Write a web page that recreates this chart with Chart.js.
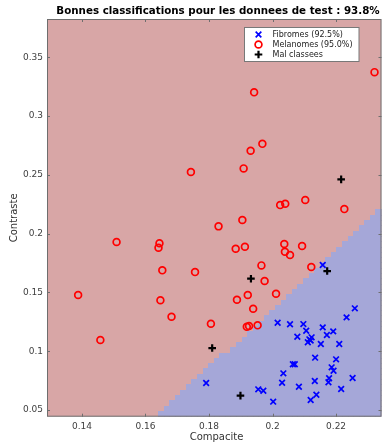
<!DOCTYPE html>
<html>
<head>
<meta charset="utf-8">
<script src="https://cdn.jsdelivr.net/npm/chart.js@4.4.1/dist/chart.umd.min.js"></script>
<style>
  html, body { margin: 0; padding: 0; background: #ffffff; }
  #wrap { width: 383px; height: 444px; }
</style>
</head>
<body>
<div id="wrap"><canvas id="c" width="383" height="444"></canvas></div>
<script>
// Fibromes correctly classified
const compaciteFib = [0.2158, 0.2259, 0.2233, 0.2016, 0.2055, 0.2097, 0.2158, 0.2106, 0.2191, 0.2078,
  0.2171, 0.2123, 0.2116, 0.2111, 0.2120, 0.2152, 0.2210, 0.2134, 0.2200, 0.2064,
  0.2070, 0.2186, 0.2192, 0.2034, 0.2178, 0.2252, 0.2030, 0.2083, 0.2133, 0.2176,
  0.2216, 0.1791, 0.1955, 0.1971, 0.2002, 0.2120, 0.2138];
const contrasteFib = [0.1733, 0.1365, 0.1288, 0.1242, 0.1229, 0.1231, 0.1203, 0.1174, 0.1169, 0.1123,
  0.1138, 0.1118, 0.1101, 0.1076, 0.1091, 0.1061, 0.1061, 0.0945, 0.0931, 0.0889,
  0.0889, 0.0863, 0.0834, 0.0812, 0.0770, 0.0772, 0.0732, 0.0698, 0.0747, 0.0736,
  0.0679, 0.0730, 0.0676, 0.0664, 0.0571, 0.0585, 0.0630];

// Melanomes correctly classified
const compaciteMel = [0.2321, 0.1942, 0.1968, 0.1931, 0.1909, 0.1743, 0.2103, 0.2024, 0.2040, 0.2226,
  0.1905, 0.1830, 0.1644, 0.1641, 0.1884, 0.1913, 0.1509, 0.1653, 0.1756, 0.1965,
  0.1975, 0.2093, 0.2037, 0.2039, 0.2055, 0.2122, 0.2011, 0.1682, 0.1647, 0.1888,
  0.1922, 0.1939, 0.1806, 0.1919, 0.1926, 0.1953, 0.1388, 0.1458];
const contrasteMel = [0.3374, 0.3202, 0.2764, 0.2705, 0.2555, 0.2524, 0.2286, 0.2243, 0.2254, 0.2209,
  0.2116, 0.2062, 0.1918, 0.1880, 0.1872, 0.1889, 0.1929, 0.1688, 0.1673, 0.1730,
  0.1597, 0.1895, 0.1912, 0.1846, 0.1818, 0.1716, 0.1489, 0.1293, 0.1433, 0.1438,
  0.1478, 0.1361, 0.1234, 0.1208, 0.1214, 0.1220, 0.1478, 0.1095];

// Misclassified samples
const compaciteErr = [0.2216, 0.2172, 0.1932, 0.1810, 0.1899];
const contrasteErr = [0.2462, 0.1682, 0.1617, 0.1027, 0.0622];

// Linear decision boundary (two points on the separating line) and grid resolution
const boundaryCompacite = [0.1646, 0.2343];
const boundaryContraste = [0.0466, 0.2224];
const gridCols = 60, gridRows = 75;

const xTicks = [0.14, 0.16, 0.18, 0.2, 0.22];
const xTickLabels = ['0.14', '0.16', '0.18', '0.2', '0.22'];
const yTicks = [0.05, 0.1, 0.15, 0.2, 0.25, 0.3, 0.35];
const yTickLabels = ['0.05', '0.1', '0.15', '0.2', '0.25', '0.3', '0.35'];

const legendLabels = ['Fibromes (92.5%)', 'Melanomes (95.0%)', 'Mal classees'];
const titleText = 'Bonnes classifications pour les donnees de test : 93.8%';

const X_MIN = 0.129, X_MAX = 0.2343, Y_MIN = 0.0443, Y_MAX = 0.3826;
const RED_BG = 'rgb(216,166,166)';
const BLUE_BG = 'rgb(165,167,216)';
const AXIS_COL = 'rgb(110,110,110)';
const FONT = '"DejaVu Sans", sans-serif';

const pts = (xs, ys) => xs.map((x, i) => ({ x: x, y: ys[i] }));

const styles = [
  { pointStyle: 'crossRot', radius: 4.0, borderColor: 'rgb(0,0,255)', borderWidth: 1.7 },
  { pointStyle: 'circle', radius: 3.4, borderColor: 'rgb(255,0,0)', borderWidth: 1.7 },
  { pointStyle: 'cross', radius: 3.8, borderColor: 'rgb(0,0,0)', borderWidth: 2.2 }
];

const decoration = {
  id: 'decoration',
  beforeDatasetsDraw(chart) {
    const { ctx, chartArea: a, scales: { x, y } } = chart;
    ctx.save();
    ctx.beginPath();
    ctx.rect(a.left, a.top, a.right - a.left, a.bottom - a.top);
    ctx.clip();
    ctx.fillStyle = RED_BG;
    ctx.fillRect(a.left, a.top, a.right - a.left, a.bottom - a.top);
    // classify each grid cell by its centre against the boundary line
    const [bx0, bx1] = boundaryCompacite, [by0, by1] = boundaryContraste;
    const dx = (X_MAX - X_MIN) / gridCols, dy = (Y_MAX - Y_MIN) / gridRows;
    ctx.fillStyle = BLUE_BG;
    for (let r = 0; r < gridRows; r++) {
      const y0 = Y_MIN + r * dy, yc = y0 + dy / 2;
      for (let c = 0; c < gridCols; c++) {
        const x0 = X_MIN + c * dx, xc = x0 + dx / 2;
        const side = (bx1 - bx0) * (yc - by0) - (by1 - by0) * (xc - bx0);
        if (side < 0) {
          const px0 = Math.floor(x.getPixelForValue(x0));
          const px1 = Math.ceil(x.getPixelForValue(x0 + dx));
          const py0 = Math.ceil(y.getPixelForValue(y0));
          const py1 = Math.floor(y.getPixelForValue(y0 + dy));
          ctx.fillRect(px0, py1, px1 - px0, py0 - py1);
        }
      }
    }
    ctx.restore();
  },
  afterDatasetsDraw(chart) {
    const { ctx, chartArea: a, scales: { x, y } } = chart;
    ctx.save();
    // frame
    ctx.strokeStyle = AXIS_COL;
    ctx.lineWidth = 1;
    ctx.strokeRect(a.left + 0.5, a.top + 0.5, a.right - a.left - 1, a.bottom - a.top - 1);
    // inward tick marks on all four sides
    const tl = 3;
    ctx.beginPath();
    xTicks.forEach(v => {
      const px = Math.round(x.getPixelForValue(v)) + 0.5;
      ctx.moveTo(px, a.bottom); ctx.lineTo(px, a.bottom - tl);
      ctx.moveTo(px, a.top); ctx.lineTo(px, a.top + tl);
    });
    yTicks.forEach(v => {
      const py = Math.round(y.getPixelForValue(v)) + 0.5;
      ctx.moveTo(a.left, py); ctx.lineTo(a.left + tl, py);
      ctx.moveTo(a.right, py); ctx.lineTo(a.right - tl, py);
    });
    ctx.stroke();

    // legend box
    const lx = 244.5, ly = 27.5, lw = 114.5, lh = 34;
    ctx.fillStyle = '#ffffff';
    ctx.fillRect(lx, ly, lw, lh);
    ctx.strokeStyle = 'rgb(120,120,120)';
    ctx.strokeRect(lx, ly, lw, lh);
    ctx.font = '8px ' + FONT;
    ctx.textBaseline = 'middle';
    ctx.textAlign = 'left';
    legendLabels.forEach((t, i) => {
      const cy = 34.5 + i * 10;
      const s = styles[i];
      ctx.strokeStyle = s.borderColor;
      ctx.fillStyle = 'rgba(0,0,0,0)';
      ctx.lineWidth = s.borderWidth;
      Chart.helpers.drawPoint(ctx, { pointStyle: s.pointStyle, radius: s.radius, borderWidth: s.borderWidth, rotation: 0 }, 258.5, cy);
      ctx.fillStyle = '#222222';
      ctx.fillText(t, 272.5, cy + 0.5);
    });

    // title and axis titles
    ctx.fillStyle = '#000000';
    ctx.font = 'bold 10.3px ' + FONT;
    ctx.textAlign = 'center';
    ctx.textBaseline = 'middle';
    ctx.fillText(titleText, 218, 11);
    ctx.fillStyle = '#333333';
    ctx.font = '10px ' + FONT;
    ctx.fillText('Compacite', 216.5, 437.5);
    ctx.translate(14, (a.top + a.bottom) / 2);
    ctx.rotate(-Math.PI / 2);
    ctx.fillText('Contraste', 0, 0);
    ctx.restore();
  }
};

new Chart(document.getElementById('c'), {
  type: 'scatter',
  data: {
    datasets: [
      Object.assign({ label: legendLabels[0], data: pts(compaciteFib, contrasteFib), backgroundColor: 'rgba(0,0,0,0)' }, styles[0]),
      Object.assign({ label: legendLabels[1], data: pts(compaciteMel, contrasteMel), backgroundColor: 'rgba(0,0,0,0)' }, styles[1]),
      Object.assign({ label: legendLabels[2], data: pts(compaciteErr, contrasteErr), backgroundColor: 'rgba(0,0,0,0)' }, styles[2])
    ]
  },
  options: {
    responsive: false,
    animation: false,
    devicePixelRatio: 1,
    layout: { autoPadding: false, padding: { left: 0, right: 1.5, top: 19, bottom: 0 } },
    plugins: { legend: { display: false }, tooltip: { enabled: false }, title: { display: false } },
    elements: { point: { hoverRadius: 4 } },
    scales: {
      x: {
        type: 'linear', min: X_MIN, max: X_MAX,
        grid: { display: false, drawTicks: false },
        border: { display: false },
        afterBuildTicks: s => { s.ticks = xTicks.map(v => ({ value: v })); },
        afterFit: s => { s.height = 27.3; },
        ticks: {
          padding: 5, color: '#404040', font: { family: FONT, size: 9 },
          maxRotation: 0, autoSkip: false,
          callback: (v, i) => xTickLabels[i]
        }
      },
      y: {
        type: 'linear', min: Y_MIN, max: Y_MAX,
        grid: { display: false, drawTicks: false },
        border: { display: false },
        afterBuildTicks: s => { s.ticks = yTicks.map(v => ({ value: v })); },
        afterFit: s => { s.width = 47; },
        ticks: {
          padding: 4, color: '#404040', font: { family: FONT, size: 9 },
          autoSkip: false,
          callback: (v, i) => yTickLabels[i]
        }
      }
    }
  },
  plugins: [decoration]
});
</script>
</body>
</html>
